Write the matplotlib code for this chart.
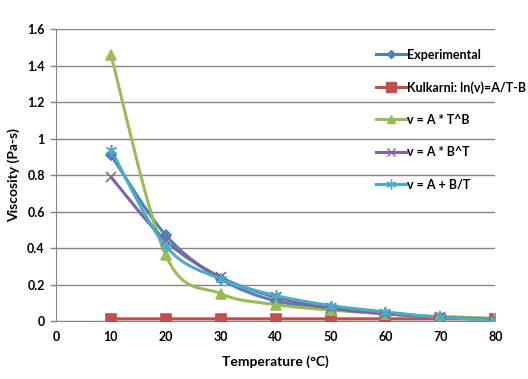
import numpy as np
import matplotlib
matplotlib.use("Agg")
import matplotlib.pyplot as plt
from matplotlib.path import Path
from matplotlib.patches import PathPatch
from matplotlib.lines import Line2D

temps = [10, 20, 30, 40, 50, 60, 70, 80]
experimental = [0.91, 0.47, 0.23, 0.11, 0.07, 0.04, 0.02, 0.01]
kulkarni = [0.012, 0.012, 0.012, 0.012, 0.012, 0.012, 0.012, 0.012]
power_fit = [1.46, 0.36, 0.15, 0.09, 0.06, 0.04, 0.025, 0.015]
exp_fit = [0.79, 0.44, 0.24, 0.13, 0.07, 0.04, 0.02, 0.01]
recip_fit = [0.94, 0.41, 0.23, 0.14, 0.085, 0.05, 0.02, 0.005]

labels = ["Experimental", "Kulkarni: ln(v)=A/T-B", "v = A * T^B",
          "v = A * B^T", "v = A + B/T"]
colours = ["#4F81BD", "#C0504D", "#9BBB59", "#8064A2", "#4BACC6"]
markers = ["D", "s", "^", "x", (6, 2, 0)]
msizes = [5, 7.5, 7, 7, 8]

plt.rcParams['font.family'] = ['Lato', 'DejaVu Sans']
plt.rcParams['font.weight'] = 'bold'


def smooth_path(xs, ys):
    # Excel-like smoothed line: bezier segments through the points
    pts = np.column_stack([xs, ys]).astype(float)
    verts = [pts[0]]
    codes = [Path.MOVETO]
    n = len(pts)
    for i in range(n - 1):
        p0 = pts[max(i - 1, 0)]
        p1 = pts[i]
        p2 = pts[i + 1]
        p3 = pts[min(i + 2, n - 1)]
        c1 = p1 + (p2 - p0) / 6.0
        c2 = p2 - (p3 - p1) / 6.0
        verts += [c1, c2, p2]
        codes += [Path.CURVE4] * 3
    return Path(verts, codes)


fig = plt.figure(figsize=(5.28, 3.79), dpi=100)
ax = fig.add_axes([0.106, 0.153, 0.832, 0.770])

series = [experimental, kulkarni, power_fit, exp_fit, recip_fit]
handles = []
for vals, lab, col, mk, ms in zip(series, labels, colours, markers, msizes):
    patch = PathPatch(smooth_path(temps, vals), facecolor='none',
                      edgecolor=col, lw=2.2, zorder=3)
    ax.add_patch(patch)
    ax.plot(temps, vals, ls='none', marker=mk, color=col, ms=ms,
            mew=1.2, zorder=4)
    handles.append(Line2D([], [], color=col, lw=2.2, marker=mk, ms=ms - 1,
                          mew=1.0))

ax.set_xlim(0, 80)
ax.set_ylim(0, 1.6)
ax.set_xticks(range(0, 81, 10))
ax.set_yticks([0, 0.2, 0.4, 0.6, 0.8, 1.0, 1.2, 1.4, 1.6])
ax.set_yticklabels(["0", "0.2", "0.4", "0.6", "0.8", "1", "1.2", "1.4", "1.6"])
ax.yaxis.grid(True, color='#868686', lw=1.0)
ax.set_axisbelow(True)
for s in ['top', 'right']:
    ax.spines[s].set_visible(False)
ax.spines['left'].set_color('#868686')
ax.spines['bottom'].set_color('#868686')
ax.tick_params(axis='both', labelsize=9, colors='black', length=4,
               width=1.0, pad=4)
ax.tick_params(axis='both', color='#868686')
ax.tick_params(axis='x', length=0, pad=7)

ax.set_xlabel("Temperature (\u00b0C)", fontsize=10, fontweight='bold',
              labelpad=9)
ax.set_ylabel("Viscosity (Pa-s)", fontsize=10, fontweight='bold',
              labelpad=5)

fig.legend(handles, labels, loc='upper left',
           bbox_to_anchor=(0.703, 0.885), frameon=False, fontsize=9,
           labelspacing=1.62, handlelength=2.4, handletextpad=0.1,
           borderaxespad=0)

fig.savefig("out.png", dpi=100)
